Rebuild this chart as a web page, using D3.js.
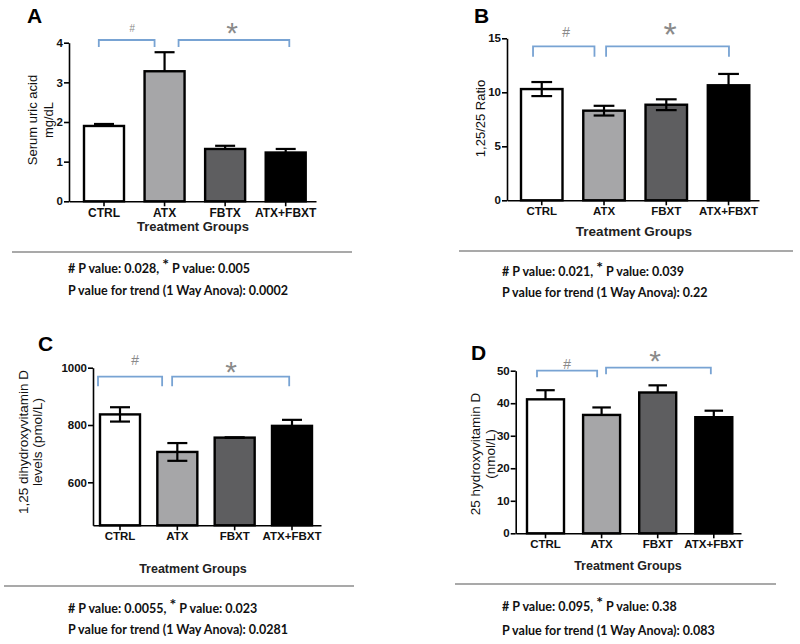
<!DOCTYPE html>
<html>
<head>
<meta charset="utf-8">
<script src="https://cdn.jsdelivr.net/npm/d3@7"></script>
<style>
  body { margin: 0; background: #fff; }
  svg { display: block; }
  .tick text { font-family: "Liberation Sans", Arial, sans-serif; font-weight: bold; fill: #111; }
  .domain, .tick line { stroke: #000; stroke-width: 1.6; }
</style>
</head>
<body>
<script>
// chart values
const catsA = ["CTRL", "ATX", "FBTX", "ATX+FBXT"];
const cats = ["CTRL", "ATX", "FBXT", "ATX+FBXT"];
const barFills = ["#ffffff", "#a6a6a8", "#5e5e60", "#000000"];

const uricAcid = [1.90, 3.28, 1.32, 1.23];
const uricAcidErr = [0.05, 0.48, 0.08, 0.09];
const ratio = [10.3, 8.3, 8.85, 10.65];
const ratioErr = [0.65, 0.45, 0.5, 1.05];
const dihydroxyD = [837, 706, 756, 797];
const dihydroxyErr = [25, 31, 1, 21];
const hydroxyD = [41.2, 36.4, 43.3, 35.7];
const hydroxyErr = [2.8, 2.3, 2.2, 2.0];

const ticksA = [0, 1, 2, 3, 4];
const ticksB = [0, 5, 10, 15];
const ticksC = [600, 800, 1000];
const ticksD = [0, 10, 20, 30, 40, 50];

const pHash = ["0.028", "0.021", "0.0055", "0.095"];
const pStar = ["0.005", "0.039", "0.023", "0.38"];
const pTrend = ["0.0002", "0.22", "0.0281", "0.083"];

const width = 800;
const height = 644;
var svg;

// panel layout (pixels)
const panels = [
  { letter: "A", lx: 27, ly: 23, cats: catsA, vals: uricAcid, errs: uricAcidErr, both: false,
    domain: [0, 4], ticks: ticksA, yr: [201.3, 42.7],
    axisL: 69, axisR: 316, barL: 84, barR: 305.7, bw: 40, catFont: 12,
    ylab: ["Serum uric acid", "mg/dL"], ylx: [32, 48], ylc: 120,
    xlab: { x: 193, y: 231, size: 13 },
    brackets: [{ a: 0, fa: 0.37, b: 1, fb: 0.25, y: 40, d: 7 }, { a: 1, fa: 0.85, b: 3, fb: 0.59, y: 40, d: 7 }],
    hash: { x: 132, y: 28.5, size: 10 }, star: { x: 232, y: 25.5, size: 30 },
    sep: { x1: 12, x2: 352, y: 252 }, foot: { x: 68, y1: 273, y2: 295 }, idx: 0 },
  { letter: "B", lx: 474, ly: 23, cats: cats, vals: ratio, errs: ratioErr, both: true,
    domain: [0, 15], ticks: ticksB, yr: [200.3, 38.3],
    axisL: 507, axisR: 759, barL: 521, barR: 749.3, bw: 41.5, catFont: 11.5,
    ylab: ["1,25/25 Ratio"], ylx: [480], ylc: 118.5,
    xlab: { x: 634, y: 236, size: 13.5 },
    brackets: [{ a: 0, fa: 0.29, b: 1, fb: 0.27, y: 46.3, d: 10.5 }, { a: 1, fa: 0.55, b: 3, fb: 0.51, y: 46.3, d: 10.5 }],
    hash: { x: 566, y: 32, size: 14 }, star: { x: 670, y: 26, size: 34 },
    sep: { x1: 459, x2: 793, y: 251 }, foot: { x: 502, y1: 276, y2: 297 }, idx: 1 },
  { letter: "C", lx: 38, ly: 351, cats: cats, vals: dihydroxyD, errs: dihydroxyErr, both: true,
    domain: [450, 1000], ticks: ticksC, yr: [525.3, 367.7],
    axisL: 93, axisR: 321, barL: 100, barR: 312, bw: 40, catFont: 11.5,
    ylab: ["1,25 dihydroxyvitamin D", "levels (pmol/L)"], ylx: [23, 37], ylc: 442,
    xlab: { x: 193, y: 573, size: 12.5 },
    brackets: [{ a: 0, fa: -0.05, b: 1, fb: 0.12, y: 376.7, d: 9.5 }, { a: 1, fa: 0.37, b: 3, fb: 0.43, y: 376.7, d: 9.5 }],
    hash: { x: 135, y: 360, size: 14 }, star: { x: 231, y: 365, size: 30 },
    sep: { x1: 4, x2: 354, y: 586 }, foot: { x: 68, y1: 613, y2: 634 }, idx: 2 },
  { letter: "D", lx: 471, ly: 360, cats: cats, vals: hydroxyD, errs: hydroxyErr, both: false,
    domain: [0, 50], ticks: ticksD, yr: [533.3, 370.7],
    axisL: 515.7, axisR: 741, barL: 527, barR: 732.3, bw: 37, catFont: 11.5,
    ylab: ["25 hydroxyvitamin D", "(nmol/L)"], ylx: [475, 490], ylc: 454,
    xlab: { x: 628, y: 570, size: 12.5 },
    brackets: [{ a: 0, fa: 0.27, b: 1, fb: 0.38, y: 370.7, d: 6.5 }, { a: 1, fa: 0.62, b: 3, fb: 0.42, y: 367.7, d: 6.5 }],
    hash: { x: 567, y: 363.5, size: 14 }, star: { x: 655, y: 353.5, size: 30 },
    sep: { x1: 455, x2: 776, y: 584 }, foot: { x: 502, y1: 611, y2: 635 }, idx: 3 }
];

// band scale whose bars sit between barL and barR while the axis runs axisL..axisR
function makeBand(p) {
  const n = p.cats.length;
  const step = (p.barR - p.barL - p.bw) / (n - 1);
  const outer = (p.axisR - p.axisL) - (p.barR - p.barL);
  return d3.scaleBand()
    .domain(p.cats)
    .range([p.axisL, p.axisR])
    .paddingInner(1 - p.bw / step)
    .paddingOuter(outer / (2 * step))
    .align((p.barL - p.axisL) / outer);
}

function drawPanel(p) {
  const x = makeBand(p);
  const y = d3.scaleLinear().domain(p.domain).range(p.yr);
  const base = p.yr[0];
  const g = svg.append("g");
  const rows = p.cats.map((c, i) => ({ c: c, v: p.vals[i], e: p.errs[i], fill: barFills[i] }));
  const mid = d => x(d.c) + x.bandwidth() / 2;

  // panel letter
  g.append("text")
    .attr("x", p.lx).attr("y", p.ly)
    .style("font-family", "Liberation Sans, Arial, sans-serif")
    .style("font-weight", "bold").style("font-size", "21px")
    .text(p.letter);

  // error bars first, the bar fill hides the lower half when only the upper one is shown
  const cap = x.bandwidth() * 0.25;
  const eb = g.selectAll(".err").data(rows).enter().append("g").attr("class", "err")
    .attr("stroke", "#000").attr("stroke-width", 2.2);
  eb.append("line")
    .attr("x1", mid).attr("x2", mid)
    .attr("y1", d => y(d.v)).attr("y2", d => y(d.v + d.e));
  eb.append("line")
    .attr("x1", d => mid(d) - cap).attr("x2", d => mid(d) + cap)
    .attr("y1", d => y(d.v + d.e)).attr("y2", d => y(d.v + d.e));

  g.selectAll(".bar").data(rows).enter().append("rect")
    .attr("class", "bar")
    .attr("x", d => x(d.c))
    .attr("y", d => y(d.v))
    .attr("width", x.bandwidth())
    .attr("height", d => base - y(d.v))
    .attr("fill", d => d.fill)
    .attr("stroke", "#000").attr("stroke-width", 2.4);

  if (p.both) {
    const lo = g.selectAll(".errlo").data(rows).enter().append("g").attr("class", "errlo")
      .attr("stroke", "#000").attr("stroke-width", 2.2);
    lo.append("line")
      .attr("x1", mid).attr("x2", mid)
      .attr("y1", d => y(d.v)).attr("y2", d => y(d.v - d.e));
    lo.append("line")
      .attr("x1", d => mid(d) - cap).attr("x2", d => mid(d) + cap)
      .attr("y1", d => y(d.v - d.e)).attr("y2", d => y(d.v - d.e));
  }

  // axes
  const xa = g.append("g").attr("transform", "translate(0," + base + ")")
    .call(d3.axisBottom(x).tickSize(5).tickSizeOuter(0).tickPadding(2));
  xa.selectAll("text").style("font-size", p.catFont + "px");
  const ya = g.append("g").attr("transform", "translate(" + p.axisL + ",0)")
    .call(d3.axisLeft(y).tickValues(p.ticks).tickFormat(d3.format("d"))
      .tickSize(5).tickSizeOuter(0).tickPadding(1));
  ya.selectAll("text").style("font-size", "11.5px");

  // y label
  p.ylab.forEach((t, i) => {
    g.append("text")
      .attr("transform", "translate(" + p.ylx[i] + "," + p.ylc + ") rotate(-90)")
      .attr("dy", "0.35em")
      .attr("text-anchor", "middle")
      .style("font-family", "Liberation Sans, Arial, sans-serif")
      .style("font-size", (p.idx >= 2 ? 13.5 : 13) + "px").attr("fill", "#111")
      .text(t);
  });

  // x label
  g.append("text")
    .attr("x", p.xlab.x).attr("y", p.xlab.y)
    .attr("text-anchor", "middle")
    .style("font-family", "Liberation Sans, Arial, sans-serif")
    .style("font-weight", "bold").style("font-size", p.xlab.size + "px").attr("fill", "#222")
    .text("Treatment Groups");

  // significance brackets
  p.brackets.forEach(b => {
    const x0 = x(p.cats[b.a]) + b.fa * x.bandwidth();
    const x1 = x(p.cats[b.b]) + b.fb * x.bandwidth();
    g.append("path")
      .attr("d", d3.line()([[x0, b.y + b.d], [x0, b.y], [x1, b.y], [x1, b.y + b.d]]))
      .attr("fill", "none").attr("stroke", "#78a3d3").attr("stroke-width", 1.8);
  });
  g.append("text")
    .attr("x", p.hash.x).attr("y", p.hash.y).attr("dy", "0.36em")
    .attr("text-anchor", "middle")
    .style("font-family", "Liberation Sans, Arial, sans-serif")
    .style("font-style", "italic").style("font-size", p.hash.size + "px").attr("fill", "#8a8a8a")
    .text("#");
  g.append("text")
    .attr("x", p.star.x).attr("y", p.star.y).attr("dy", "0.58em")
    .attr("text-anchor", "middle")
    .style("font-family", "Liberation Sans, Arial, sans-serif")
    .style("font-size", p.star.size + "px").attr("fill", "#8a8a8a")
    .text("*");

  // separator and p-value notes
  g.append("line")
    .attr("x1", p.sep.x1).attr("x2", p.sep.x2).attr("y1", p.sep.y).attr("y2", p.sep.y)
    .attr("stroke", "#8c8c8c").attr("stroke-width", 1.6);
  const foot = g.append("g")
    .style("font-family", "Lato, 'Open Sans', sans-serif")
    .style("font-weight", "bold").style("font-size", "12.5px").attr("fill", "#111");
  const l1 = foot.append("text").attr("x", p.foot.x).attr("y", p.foot.y1);
  l1.append("tspan").text("# P value: " + pHash[p.idx] + ", ");
  l1.append("tspan").attr("dy", -3).style("font-size", "16px").text("*");
  l1.append("tspan").attr("dy", 3).text(" P value: " + pStar[p.idx]);
  foot.append("text").attr("x", p.foot.x).attr("y", p.foot.y2)
    .text("P value for trend (1 Way Anova): " + pTrend[p.idx]);
}

document.addEventListener("DOMContentLoaded", function () {
  svg = d3.select("body").append("svg")
    .attr("width", width).attr("height", height);
  panels.forEach(drawPanel);
});
</script>
</body>
</html>
